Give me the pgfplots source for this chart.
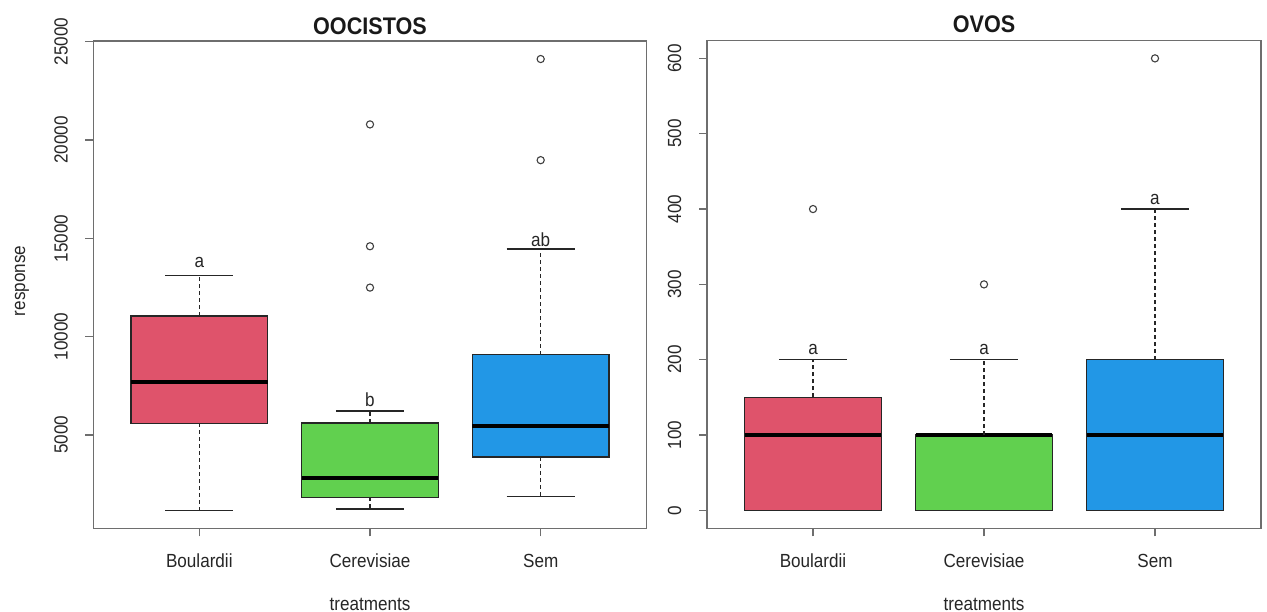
\documentclass[border=0pt]{standalone}
\usepackage{pgfplots}
\pgfplotsset{compat=1.18}
\usepackage{fontspec}
\setmainfont{Liberation Sans}[FakeStretch=0.9]
\definecolor{rred}{HTML}{DF536B}
\definecolor{rgreen}{HTML}{61D04F}
\definecolor{rblue}{HTML}{2297E6}
\definecolor{frame}{HTML}{6E6E6E}
\newcommand{\lf}{\fontsize{19}{22}\selectfont}
\tikzset{lett/.style={anchor=base, font=\lf, text=black!85}}
\pgfplotsset{
  rbox/.style={
    scale only axis, anchor=south west,
    xmin=0.38, xmax=3.62,
    xtick={1,2,3}, xticklabels={Boulardii,Cerevisiae,Sem},
    scaled y ticks=false,
    tick pos=left, tick align=outside, major tick length=8pt,
    axis line style={frame, line width=1.4pt},
    tick style={frame, line width=1.2pt},
    ticklabel style={font=\lf, text=black!85},
    /pgf/number format/assume math mode=true,
    /pgf/number format/set thousands separator={},
    xticklabel style={anchor=base, inner sep=0pt},
    yticklabel style={rotate=90, anchor=south, inner sep=0pt},
    xticklabel shift=31.5pt,
    yticklabel shift=17.5pt,
    clip=false,
  },
  boxst/.style={draw=black!85, line width=1.3pt},
  whisk/.style={black!85, line width=1.4pt, dash pattern=on 4pt off 3pt},
  stap/.style={black!85, line width=1.3pt},
  med/.style={black, line width=4pt},
  outl/.style={only marks, mark=o, mark size=3.6pt, mark options={black!75, line width=1.1pt}},
}
\begin{document}
\begin{tikzpicture}
\path[use as bounding box] (0,0) rectangle (1267pt,612pt);
% ---------------- OOCISTOS ----------------
\begin{axis}[rbox, at={(93.5pt,83.5pt)}, width=553pt, height=487.5pt,
  ymin=243, ymax=25037, ytick={5000,10000,15000,20000,25000}]
% Boulardii
\addplot[boxst, fill=rred] coordinates {(0.6,5588) (1.4,5588) (1.4,11050) (0.6,11050)} -- cycle;
\addplot[med] coordinates {(0.6,7703) (1.4,7703)};
\addplot[whisk] coordinates {(1,11050) (1,13121)};
\addplot[whisk] coordinates {(1,5588) (1,1161)};
\addplot[stap] coordinates {(0.8,13121) (1.2,13121)};
\addplot[stap] coordinates {(0.8,1161) (1.2,1161)};
% Cerevisiae
\addplot[boxst, fill=rgreen] coordinates {(1.6,1836) (2.4,1836) (2.4,5608) (1.6,5608)} -- cycle;
\addplot[med] coordinates {(1.6,2819) (2.4,2819)};
\addplot[whisk] coordinates {(2,5608) (2,6217)};
\addplot[whisk] coordinates {(2,1836) (2,1227)};
\addplot[stap] coordinates {(1.8,6217) (2.2,6217)};
\addplot[stap] coordinates {(1.8,1227) (2.2,1227)};
\addplot[outl] coordinates {(2,12495) (2,14598) (2,20794)};
% Sem
\addplot[boxst, fill=rblue] coordinates {(2.6,3884) (3.4,3884) (3.4,9087) (2.6,9087)} -- cycle;
\addplot[med] coordinates {(2.6,5436) (3.4,5436)};
\addplot[whisk] coordinates {(3,9087) (3,14460)};
\addplot[whisk] coordinates {(3,3884) (3,1856)};
\addplot[stap] coordinates {(2.8,14460) (3.2,14460)};
\addplot[stap] coordinates {(2.8,1856) (3.2,1856)};
\addplot[outl] coordinates {(3,18976) (3,24119)};
\node[lett] at (axis cs:1,13520) {a};
\node[lett] at (axis cs:2,6450) {b};
\node[lett] at (axis cs:3,14590) {ab};
\end{axis}
% ---------------- OVOS ----------------
\begin{axis}[rbox, at={(707pt,83.5pt)}, width=554pt, height=488.2pt,
  ymin=-24, ymax=624, ytick={0,100,200,300,400,500,600}]
% Boulardii
\addplot[boxst, fill=rred] coordinates {(0.6,0) (1.4,0) (1.4,150) (0.6,150)} -- cycle;
\addplot[med] coordinates {(0.6,100) (1.4,100)};
\addplot[whisk] coordinates {(1,150) (1,200)};
\addplot[stap] coordinates {(0.8,200) (1.2,200)};
\addplot[outl] coordinates {(1,400)};
% Cerevisiae
\addplot[boxst, fill=rgreen] coordinates {(1.6,0) (2.4,0) (2.4,100) (1.6,100)} -- cycle;
\addplot[med] coordinates {(1.6,100) (2.4,100)};
\addplot[whisk] coordinates {(2,100) (2,200)};
\addplot[stap] coordinates {(1.8,200) (2.2,200)};
\addplot[outl] coordinates {(2,300)};
% Sem
\addplot[boxst, fill=rblue] coordinates {(2.6,0) (3.4,0) (3.4,200) (2.6,200)} -- cycle;
\addplot[med] coordinates {(2.6,100) (3.4,100)};
\addplot[whisk] coordinates {(3,200) (3,400)};
\addplot[stap] coordinates {(2.8,400) (3.2,400)};
\addplot[outl] coordinates {(3,600)};
\node[lett] at (axis cs:1,207.6) {a};
\node[lett] at (axis cs:2,207.6) {a};
\node[lett] at (axis cs:3,406.6) {a};
\end{axis}
% titles and labels
\node[anchor=base, font=\bfseries\fontsize{24}{28}\selectfont, text=black!90] at (370pt,577pt) {OOCISTOS};
\node[anchor=base, font=\bfseries\fontsize{24}{28}\selectfont, text=black!90] at (984pt,579pt) {OVOS};
\node[anchor=base, font=\lf, text=black!85] at (370pt,1.5pt) {treatments};
\node[anchor=base, font=\lf, text=black!85] at (984pt,1.5pt) {treatments};
\node[rotate=90, font=\lf, text=black!85] at (22pt,331pt) {response};
\end{tikzpicture}
\end{document}
